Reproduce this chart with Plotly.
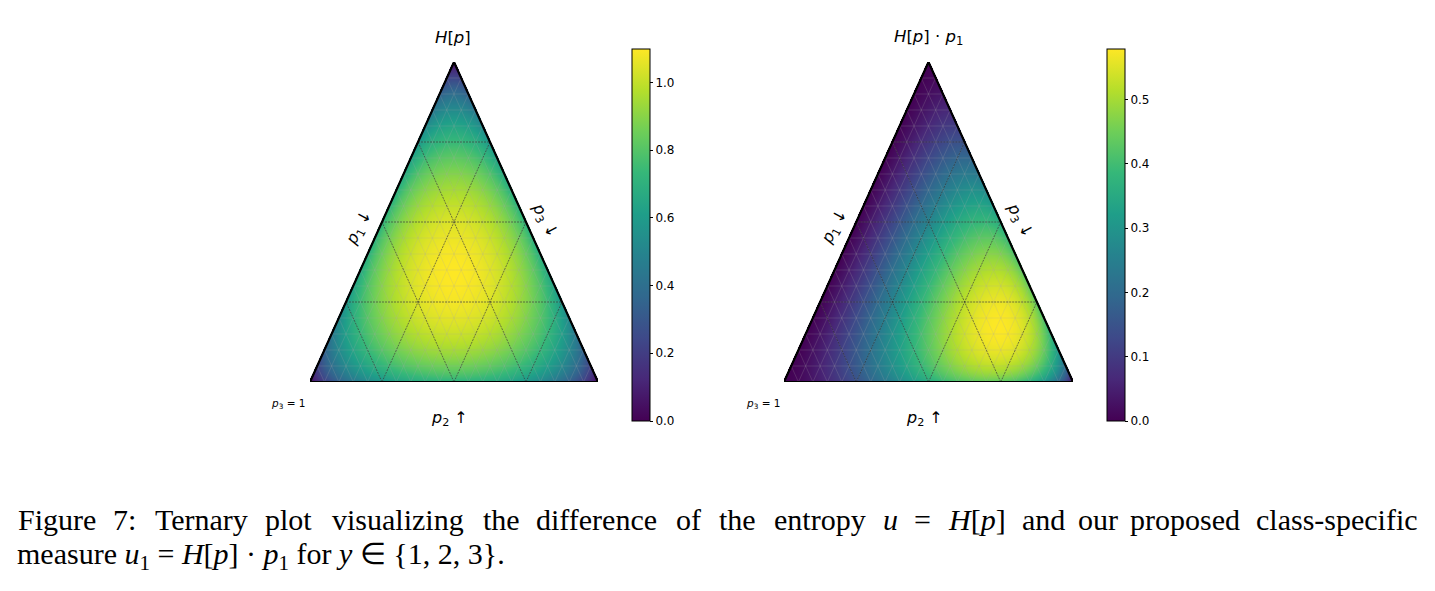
import numpy as np
import plotly.graph_objects as go

# ---------------- data / labels ----------------
panel_titles = ["<i>H</i>[<i>p</i>]", "<i>H</i>[<i>p</i>] · <i>p</i><sub>1</sub>"]
left_labels = ["<i>p</i><sub>1</sub> ↓", "<i>p</i><sub>1</sub> ↓"]
right_labels = ["<i>p</i><sub>3</sub> ↓", "<i>p</i><sub>3</sub> ↓"]
bottom_labels = ["<i>p</i><sub>2</sub> ↑", "<i>p</i><sub>2</sub> ↑"]
corner_labels = ["<i>p</i><sub>3</sub> = 1", "<i>p</i><sub>3</sub> = 1"]
cbar_ticks_left = [0.0, 0.2, 0.4, 0.6, 0.8, 1.0]
cbar_ticks_right = [0.0, 0.1, 0.2, 0.3, 0.4, 0.5]
major_grid = [0.25, 0.5, 0.75]
minor_grid = [k / 20 for k in range(1, 20)]
caption_line1 = ["Figure", "7:", "Ternary", "plot", "visualizing", "the", "difference", "of",
                 "the", "entropy", "<i>u</i>", "=", "<i>H</i>[<i>p</i>]", "and", "our",
                 "proposed", "class-specific"]
caption_line2 = ("measure <i>u</i><sub>1</sub> = <i>H</i>[<i>p</i>] · <i>p</i><sub>1</sub> "
                 "for <i>y</i> ∈ {1, 2, 3}.")

W, H = 1435, 591
panels = [dict(x0=310, x1=598), dict(x0=784, x1=1073)]
YTOP, YBOT = 62, 382
# left pixel position of each word of the justified first caption line (last: right edge)
line1_x = [16, 111, 153, 263, 330, 481, 534, 674, 717, 772, 881, 912, 946, 1020, 1076, 1128, 1420]


def px(x):
    return x / W


def py(y):
    return 1 - y / H


def bary_grid(nx, ny):
    xs = (np.arange(nx) + 0.5) / nx
    ys = (np.arange(ny) + 0.5) / ny
    X, Y = np.meshgrid(xs, ys)
    p2 = Y
    p1 = X - Y / 2
    p3 = 1 - X - Y / 2
    tol = 0.004
    inside = (p1 >= -tol) & (p3 >= -tol)
    P = [np.clip(p, 1e-12, 1) for p in (p1, p2, p3)]
    s = P[0] + P[1] + P[2]
    P = [p / s for p in P]
    return xs, ys, P, inside


def entropy(P):
    return -sum(p * np.log(p) for p in P)


fig = go.Figure()

for i, pan in enumerate(panels):
    nx = int(pan["x1"] - pan["x0"])
    ny = YBOT - YTOP
    xs, ys, P, inside = bary_grid(nx, ny)
    Hval = entropy(P)
    z = Hval if i == 0 else Hval * P[0]
    z = np.where(inside, z, np.nan)
    zmax = np.log(3) if i == 0 else float(np.nanmax(z))
    ticks = cbar_ticks_left if i == 0 else cbar_ticks_right
    cbx = 632 if i == 0 else 1107
    xa = "x" if i == 0 else "x2"
    ya = "y" if i == 0 else "y2"
    fig.add_trace(go.Heatmap(
        x=xs, y=ys, z=z, colorscale="Viridis", zmin=0, zmax=zmax,
        xaxis=xa, yaxis=ya, hoverinfo="skip",
        colorbar=dict(
            x=px(cbx), xanchor="left", xpad=0, ypad=0,
            y=py(235), yanchor="middle", len=372, lenmode="pixels",
            thickness=18, thicknessmode="pixels",
            outlinewidth=1, outlinecolor="black",
            tickvals=ticks, ticktext=[f"{t:.1f}" for t in ticks],
            ticks="outside", ticklen=3, tickwidth=1, tickcolor="black",
            tickfont=dict(family="DejaVu Sans", size=12, color="black"),
        ),
    ))

    # minor faint mesh
    segx, segy = [], []
    for c in minor_grid:
        segx += [c / 2, 1 - c / 2, None]; segy += [c, c, None]
        segx += [c, (1 + c) / 2, None]; segy += [0, 1 - c, None]
        segx += [1 - c, (1 - c) / 2, None]; segy += [0, 1 - c, None]
    fig.add_trace(go.Scatter(x=segx, y=segy, mode="lines", xaxis=xa, yaxis=ya,
                             line=dict(color="rgba(170,170,170,0.3)", width=0.7),
                             hoverinfo="skip", showlegend=False))
    # major dashed grid
    segx, segy = [], []
    for c in major_grid:
        segx += [c / 2, 1 - c / 2, None]; segy += [c, c, None]
        segx += [c, (1 + c) / 2, None]; segy += [0, 1 - c, None]
        segx += [1 - c, (1 - c) / 2, None]; segy += [0, 1 - c, None]
    fig.add_trace(go.Scatter(x=segx, y=segy, mode="lines", xaxis=xa, yaxis=ya,
                             line=dict(color="rgba(30,30,30,0.75)", width=0.7, dash="2px,1px"),
                             hoverinfo="skip", showlegend=False))
    # boundary
    fig.add_trace(go.Scatter(x=[0, 1, 0.5, 0], y=[0, 0, 1, 0], mode="lines",
                             xaxis=xa, yaxis=ya,
                             line=dict(color="black", width=2.2),
                             hoverinfo="skip", showlegend=False))

layout_axes = {}
for i, pan in enumerate(panels):
    sx = "" if i == 0 else "2"
    layout_axes[f"xaxis{sx}"] = dict(domain=[px(pan["x0"]), px(pan["x1"])], range=[0, 1],
                                     visible=False, fixedrange=True)
    layout_axes[f"yaxis{sx}"] = dict(domain=[py(YBOT), py(YTOP)], range=[0, 1],
                                     visible=False, fixedrange=True)

annotations = []
sans = "DejaVu Sans"


def ann(x, y, text, size, family=sans, xanchor="center", **kw):
    d = dict(x=px(x), y=py(y), xref="paper", yref="paper", text=text, showarrow=False,
             xanchor=xanchor, yanchor="middle",
             font=dict(family=family, size=size, color="black"))
    d.update(kw)
    return d


for i, pan in enumerate(panels):
    off = 0 if i == 0 else 475
    annotations += [
        ann(453 + off, 37, panel_titles[i], 16.5),
        ann(359 + off, 227, left_labels[i], 16, textangle=-62),
        ann(545 + off, 220, right_labels[i], 16, textangle=62),
        ann(449 + off, 418, bottom_labels[i], 16),
        ann(288 + off, 404, corner_labels[i], 10.5),
    ]

serif = "Liberation Serif"
cap_size = 30
for k, (word, x) in enumerate(zip(caption_line1, line1_x)):
    anc = "right" if k == len(caption_line1) - 1 else "left"
    annotations.append(ann(x, 519, word, cap_size, family=serif, xanchor=anc))
annotations.append(ann(15, 556, caption_line2, cap_size, family=serif, xanchor="left"))

fig.update_layout(
    width=W, height=H, margin=dict(l=0, r=0, t=0, b=0),
    paper_bgcolor="white", plot_bgcolor="rgba(0,0,0,0)",
    showlegend=False, annotations=annotations, **layout_axes,
)

fig.write_html("out.html")
